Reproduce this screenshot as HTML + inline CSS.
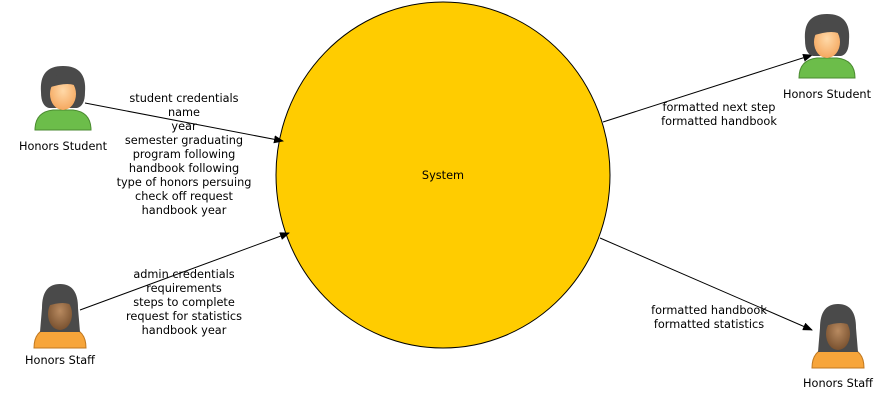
<!DOCTYPE html>
<html><head><meta charset="utf-8"><style>
html,body{margin:0;padding:0;background:#fff;}
svg text{font-family:"DejaVu Sans",sans-serif;font-size:11.3px;fill:#000;}
</style></head><body>
<svg width="890" height="408" viewBox="0 0 890 408" xmlns="http://www.w3.org/2000/svg">
<defs>
<marker id="ar" markerWidth="10" markerHeight="8" refX="9" refY="4" orient="auto" markerUnits="userSpaceOnUse">
<path d="M0,0 L10,4 L0,8 z" fill="#000"/></marker>
<radialGradient id="skin" cx="0.5" cy="0.4" r="0.6"><stop offset="0" stop-color="#ffd9a8"/><stop offset="1" stop-color="#f5a860"/></radialGradient>
<radialGradient id="dskin" cx="0.5" cy="0.4" r="0.6"><stop offset="0" stop-color="#b88a60"/><stop offset="1" stop-color="#7a5230"/></radialGradient>
<g id="stud">
<path d="M-28,30 Q-28,12 -10,10 L10,10 Q28,12 28,30 Z" fill="#6cbd4a" stroke="#4a8a30"/>
<path d="M-22,-8 Q-24,-34 0,-34 Q24,-34 22,-8 Q22,6 14,8 L-14,8 Q-22,6 -22,-8Z" fill="#4a4a4a"/>
<ellipse cx="0" cy="-6" rx="13" ry="16" fill="url(#skin)"/>
<path d="M-15,-12 Q-10,-28 4,-26 Q14,-24 16,-12 Q8,-20 -15,-12Z" fill="#4a4a4a"/>
</g>
<g id="staff">
<path d="M-26,30 Q-26,12 -10,10 L10,10 Q26,12 26,30 Z" fill="#f7a53a" stroke="#c07820"/>
<path d="M-18,-10 Q-18,-34 0,-34 Q18,-34 18,-10 L20,14 L-20,14Z" fill="#4a4a4a"/>
<ellipse cx="0" cy="-4" rx="12" ry="16" fill="url(#dskin)"/>
<path d="M-13,-12 Q-8,-26 2,-24 Q12,-22 13,-12 Q5,-18 -13,-12Z" fill="#4a4a4a"/>
</g>
</defs>
<ellipse cx="443" cy="175" rx="167" ry="173" fill="#ffcc00" stroke="#000" stroke-width="1"/>
<text x="443" y="179" text-anchor="middle">System</text>

<line x1="85" y1="103" x2="283" y2="141" stroke="#000" marker-end="url(#ar)"/>
<line x1="80" y1="310" x2="289" y2="233" stroke="#000" marker-end="url(#ar)"/>
<line x1="603" y1="122" x2="812" y2="55" stroke="#000" marker-end="url(#ar)"/>
<line x1="600" y1="238" x2="812" y2="330" stroke="#000" marker-end="url(#ar)"/>

<use href="#stud" x="63" y="100"/>
<text x="63" y="150" text-anchor="middle">Honors Student</text>
<use href="#staff" x="60" y="318"/>
<text x="60" y="364" text-anchor="middle">Honors Staff</text>
<use href="#stud" x="827" y="48"/>
<text x="827" y="98" text-anchor="middle">Honors Student</text>
<use href="#staff" x="838" y="338"/>
<text x="838" y="387" text-anchor="middle">Honors Staff</text>

<g text-anchor="middle">
<text x="184" y="102">student credentials</text>
<text x="184" y="116">name</text>
<text x="184" y="130">year</text>
<text x="184" y="144">semester graduating</text>
<text x="184" y="158">program following</text>
<text x="184" y="172">handbook following</text>
<text x="184" y="186">type of honors persuing</text>
<text x="184" y="200">check off request</text>
<text x="184" y="214">handbook year</text>
<text x="184" y="278">admin credentials</text>
<text x="184" y="292">requirements</text>
<text x="184" y="306">steps to complete</text>
<text x="184" y="320">request for statistics</text>
<text x="184" y="334">handbook year</text>
<text x="719" y="111">formatted next step</text>
<text x="719" y="125">formatted handbook</text>
<text x="709" y="314">formatted handbook</text>
<text x="709" y="328">formatted statistics</text>
</g>
</svg>
</body></html>
